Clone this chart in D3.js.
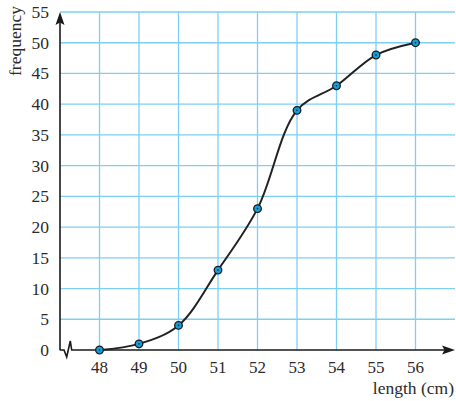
<!DOCTYPE html>
<html><head><meta charset="utf-8">
<script src="https://cdn.jsdelivr.net/npm/d3@7"></script>
<style>body{margin:0;background:#fff}svg{display:block}</style>
</head><body>
<script>
const lengths = [48, 49, 50, 51, 52, 53, 54, 55, 56];
const frequencies = [0, 1, 4, 13, 23, 39, 43, 48, 50];
const yTicks = [0, 5, 10, 15, 20, 25, 30, 35, 40, 45, 50, 55];
const xTicks = [48, 49, 50, 51, 52, 53, 54, 55, 56];

const W = 456, H = 401;
const FONT = "'Liberation Serif', 'Times New Roman', Times, serif";
const svg = d3.select("body").append("svg").attr("width", W).attr("height", H)
  .attr("font-family", FONT);
const x = d3.scaleLinear().domain([47, 57]).range([60, 455]);
const y = d3.scaleLinear().domain([0, 55]).range([350, 12]);
const grid = "#7dd0f4";

svg.append("g").selectAll("line").data(yTicks.filter(d => d > 0)).join("line")
  .attr("x1", x(47)).attr("x2", x(57)).attr("y1", d => y(d)).attr("y2", d => y(d))
  .attr("stroke", grid).attr("stroke-width", 1.3);
svg.append("g").selectAll("line").data(xTicks).join("line")
  .attr("x1", d => x(d)).attr("x2", d => x(d)).attr("y1", y(0)).attr("y2", y(55))
  .attr("stroke", grid).attr("stroke-width", 1.3);

const ax = svg.append("g").attr("stroke", "#1a1a1a").attr("stroke-width", 1.6).attr("fill", "none");
ax.append("line").attr("x1", x(47)).attr("x2", x(47)).attr("y1", y(0)).attr("y2", y(55) + 8);
ax.append("path").attr("d", `M${x(47)-0.3},${y(0)}L64,${y(0)}L66.7,${y(0)+7}L70.3,${y(0)-9}L71.7,${y(0)}L${x(57)-8},${y(0)}`);
svg.append("path").attr("d", `M${x(47)},${y(55)}l-4.5,13l4.5,-2.5l4.5,2.5z`).attr("fill", "#1a1a1a");
svg.append("path").attr("d", `M${x(57)},${y(0)}l-13,-4.5l2.5,4.5l-2.5,4.5z`).attr("fill", "#1a1a1a");

svg.append("g").selectAll("text").data(yTicks).join("text")
  .attr("x", 49).attr("y", d => y(d) + 6).attr("text-anchor", "end")
  .attr("font-size", 17.5).attr("fill", "#2b2b2b").text(d => d);
svg.append("g").selectAll("text").data(xTicks).join("text")
  .attr("x", d => x(d)).attr("y", 373).attr("text-anchor", "middle")
  .attr("font-size", 17).attr("fill", "#2b2b2b").text(d => d);

svg.append("text").attr("x", 454).attr("y", 394).attr("text-anchor", "end")
  .attr("font-size", 17.5).attr("fill", "#2b2b2b").text("length (cm)");
svg.append("text").attr("transform", "translate(21,41) rotate(-90)").attr("text-anchor", "middle")
  .attr("font-size", 17.5).attr("fill", "#2b2b2b").text("frequency");

const pts = lengths.map((l, i) => [l, frequencies[i]]);
const line = d3.line().x(d => x(d[0])).y(d => y(d[1])).curve(d3.curveCatmullRom.alpha(0.5));
svg.append("path").attr("d", line(pts)).attr("fill", "none").attr("stroke", "#222").attr("stroke-width", 2);

const pg = svg.append("g").selectAll("g").data(pts).join("g")
  .attr("transform", d => `translate(${x(d[0])},${y(d[1])})`);
pg.append("circle").attr("r", 3.8).attr("fill", "#109fdc").attr("stroke", "#1a1a1a").attr("stroke-width", 1.3);
pg.append("circle").attr("r", 0.8).attr("fill", "#1a1a1a");
</script>
</body></html>
